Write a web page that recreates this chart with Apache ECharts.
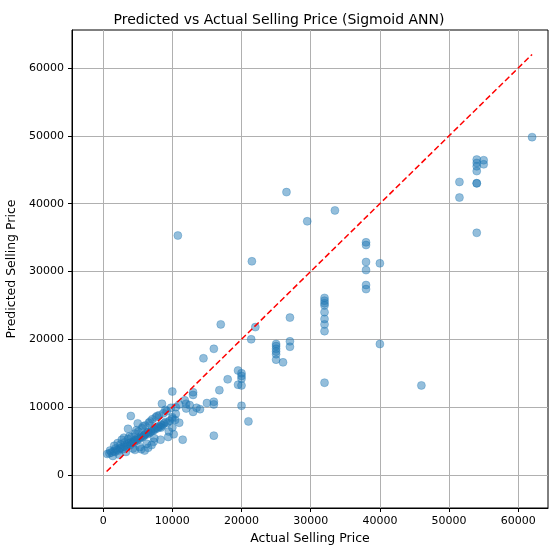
<!DOCTYPE html>
<html><head><meta charset="utf-8">
<script src="https://cdn.jsdelivr.net/npm/echarts@6/dist/echarts.min.js"></script>
<style>html,body{margin:0;padding:0;background:#fff}#c{width:558px;height:547px}</style>
</head><body><div id="c"></div>
<script>
const xTicks = [0, 10000, 20000, 30000, 40000, 50000, 60000];
const yTicks = [0, 10000, 20000, 30000, 40000, 50000, 60000];
// high-price points
const actualHigh = [62000,51500,51500,54000,54000,54000,54000,54000,54000,54000,
  55000,55000,38000,38000,38000,38000,38000,38000,40000,40000,
  46000,33500,29500,26500,10800,32000,32000,32000,32000,32000,
  32000,32000,32000,32000,27000,27000,27000,25000,25000,25000,
  25000,25000,25000,26000,21500,22000,21400,20000,20000,20000,
  20000,20000,21000,19500,19500,17000,16000,16000,16000,16000,
  14500,18000,16800,13000,13000,13000,12000,12000,10000,10000,
  10000,8500,15000,14000,11000,12500,9500,11500,13500,10500];
const predHigh = [49800,43200,40900,46500,46000,45500,44800,43000,43000,35700,
  46400,45800,34300,33900,31400,30200,28000,27400,31200,19300,
  13200,39000,37400,41700,35300,26100,25700,25300,25000,24000,
  23000,22200,21200,13600,23200,19700,18900,19300,19000,18600,
  18200,17800,17000,16600,31500,21800,20000,15000,14600,14200,
  13200,10200,7900,15400,13300,22200,18600,10800,10400,5800,
  17200,14100,12500,12200,11800,9300,10500,9800,12300,8500,
  7000,10500,10600,9700,7700,10300,6400,5200,9900,9000];
// dense low-price cluster
const actualLow = [600,900,1200,1500,1700,2000,2200,2400,2600,2800,
  3000,3200,3400,3500,3700,3900,4000,4200,4400,4500,
  4700,4900,5000,5200,5400,5500,5700,5900,6000,6200,
  6400,6500,6700,6900,7000,7200,7400,7500,7700,7900,
  8000,8200,8400,8600,8800,9000,9300,9600,10000,10400,
  1000,1800,2500,3100,3600,4100,4600,5100,5600,6100,
  6600,7100,7600,8100,8700,9200,9800,10500,11000,11800,
  1400,2300,3300,4300,5300,6300,7300,8300,9400,10200,
  2100,3800,4800,5800,6800,7800,9000,5500,6500,7000,
  4000,3000,2700,3600,5000,6000,7400,8400,1600,4600];
const predLow = [3100,3200,3300,3500,3400,3700,3600,3900,4000,3800,
  4200,4100,4500,4300,4600,4400,4800,4700,5000,4900,
  5200,5100,5400,5300,5500,5700,5600,5800,5900,6100,
  6000,6300,6200,6400,6600,6500,6800,6700,7000,6900,
  7200,7100,7400,7300,7600,7800,7700,8000,8300,8100,
  3600,3900,4500,4800,5300,5600,6100,6400,6900,7300,
  7700,8200,8500,8800,9100,9400,9900,10000,10400,11000,
  2800,3000,3400,3900,4100,4600,4900,5200,5600,6000,
  4700,5700,6600,7200,7900,8700,9600,3800,4000,4400,
  8700,5500,5200,6800,7600,3600,5400,7000,4300,3700];
const linePts = [500, 62000];
const pts = actualHigh.map((x,i)=>[x, predHigh[i]]).concat(actualLow.map((x,i)=>[x, predLow[i]]));
const chart = echarts.init(document.getElementById('c'));
const lab = {color:'#000',fontSize:11,fontFamily:'DejaVu Sans',formatter:v=>String(v)};
const axisCommon = {
  axisLine:{show:true,onZero:false,lineStyle:{color:'#000'}},
  splitLine:{show:true,lineStyle:{color:'#b0b0b0',width:1}},
  nameLocation:'middle',
  nameTextStyle:{color:'#000',fontSize:12.5,fontFamily:'DejaVu Sans'}
};
chart.setOption({
  animation:false,
  title:{text:'Predicted vs Actual Selling Price (Sigmoid ANN)',left:'center',top:8,
    textStyle:{fontSize:14,fontWeight:'normal',color:'#000',fontFamily:'DejaVu Sans'}},
  grid:{left:72,right:10,top:30,bottom:39,show:true,borderColor:'#000',borderWidth:1,outerBoundsMode:'none',containLabel:false},
  xAxis:Object.assign({},axisCommon,{type:'value',min:-4500,max:64300,name:'Actual Selling Price',nameGap:22,
    axisTick:{show:true,length:4,lineStyle:{color:'#000'},customValues:xTicks},
    axisLabel:Object.assign({},lab,{customValues:xTicks})}),
  yAxis:Object.assign({},axisCommon,{type:'value',min:-4870,max:65600,name:'Predicted Selling Price',nameGap:52,
    axisTick:{show:true,length:4,lineStyle:{color:'#000'},customValues:yTicks},
    axisLabel:Object.assign({},lab,{customValues:yTicks})}),
  series:[
    {type:'scatter',data:pts,symbolSize:8,itemStyle:{color:'rgba(31,119,180,0.6)',borderColor:'rgba(31,119,180,0.8)',borderWidth:0.5}},
    {type:'line',data:[[linePts[0],linePts[0]],[linePts[1],linePts[1]]],symbol:'none',
     lineStyle:{color:'red',type:[6,3],width:1.5}}
  ]
});
</script></body></html>
